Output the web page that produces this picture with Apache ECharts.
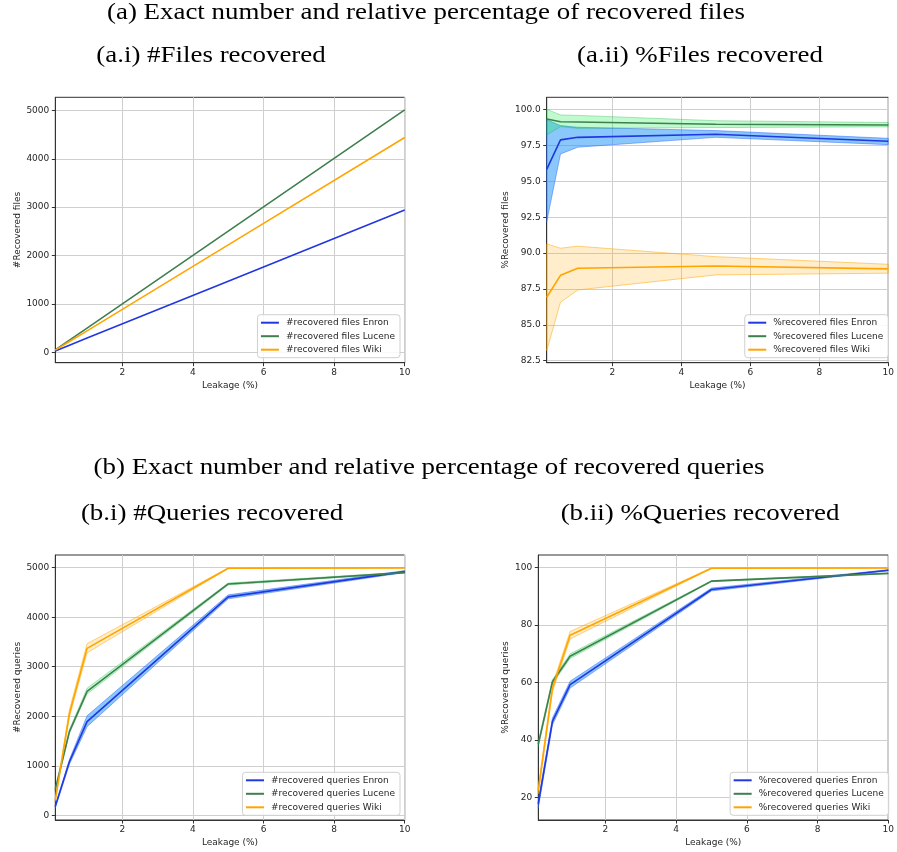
<!DOCTYPE html>
<html>
<head>
<meta charset="utf-8">
<script src="https://cdn.jsdelivr.net/npm/echarts@6/dist/echarts.min.js"></script>
<style>
html,body{margin:0;padding:0;background:#fff;}
#chart{width:897px;height:852px;}
</style>
</head>
<body>
<div id="chart"></div>
<script>
// ---- data ----
const leakage = [0.1, 0.5, 1, 5, 10];
const xTicks = [2, 4, 6, 8, 10];
const countTicks = [0, 1000, 2000, 3000, 4000, 5000];
const filesPctTicks = [82.5, 85, 87.5, 90, 92.5, 95, 97.5, 100];
const queriesPctTicks = [20, 40, 60, 80, 100];

// (a.i) number of recovered files
const filesCountEnron  = [29, 147, 294, 1470, 2940];
const filesCountLucene = [50, 251, 501, 2505, 5010];
const filesCountWiki   = [44, 222, 444, 2220, 4440];

// (a.ii) percentage of recovered files (mean, low, high)
const filesPctEnron     = [95.84, 97.89, 98.07, 98.28, 97.80];
const filesPctEnronLo   = [92.19, 96.91, 97.38, 98.07, 97.56];
const filesPctEnronHi   = [99.30, 98.89, 98.77, 98.54, 98.00];
const filesPctLucene    = [99.35, 99.16, 99.14, 98.98, 98.93];
const filesPctLuceneLo  = [98.24, 98.82, 98.70, 98.75, 98.80];
const filesPctLuceneHi  = [100.03, 99.63, 99.60, 99.23, 99.10];
const filesPctWiki      = [86.92, 88.45, 88.94, 89.10, 88.90];
const filesPctWikiLo    = [83.20, 86.57, 87.43, 88.48, 88.60];
const filesPctWikiHi    = [90.64, 90.34, 90.48, 89.75, 89.22];

// (b.i) number of recovered queries
const qCountEnron     = [180, 1080, 1890, 4410, 4920];
const qCountEnronLo   = [150, 1030, 1790, 4370, 4900];
const qCountEnronHi   = [205, 1125, 2010, 4450, 4940];
const qCountLucene    = [520, 1690, 2500, 4670, 4900];
const qCountLuceneLo  = [480, 1655, 2450, 4650, 4890];
const qCountLuceneHi  = [560, 1725, 2565, 4690, 4910];
const qCountWiki      = [310, 2050, 3370, 4988, 4996];
const qCountWikiLo    = [280, 1990, 3280, 4982, 4993];
const qCountWikiHi    = [345, 2130, 3465, 4994, 5000];

// (b.ii) percentage of recovered queries
const qPctEnron     = [17.8, 46.5, 59.3, 92.4, 99.1];
const qPctEnronLo   = [16.4, 45.3, 58.1, 91.9, 98.9];
const qPctEnronHi   = [19.2, 47.7, 60.5, 92.9, 99.3];
const qPctLucene    = [38.6, 60.3, 69.2, 95.3, 98.0];
const qPctLuceneLo  = [37.6, 59.6, 68.4, 95.1, 97.9];
const qPctLuceneHi  = [39.6, 61.0, 70.0, 95.5, 98.1];
const qPctWiki      = [22.5, 58.0, 76.5, 99.8, 99.9];
const qPctWikiLo    = [21.3, 56.8, 75.2, 99.7, 99.85];
const qPctWikiHi    = [23.7, 59.2, 77.8, 99.9, 99.95];

// ---- style ----
const C_ENRON = '#2137e0', C_LUCENE = '#3f7f4f', C_WIKI = '#ffa500';
const TXT = '#262626', SANS = 'DejaVu Sans', SERIF = 'Liberation Serif';

const grids = [
  {left: 55.3, top: 97.3, width: 349.4, height: 265.4},
  {left: 546.7, top: 97.3, width: 346.6, height: 265.4},
  {left: 55.3, top: 555, width: 349.4, height: 265},
  {left: 538.3, top: 555, width: 355, height: 265}
].map(g => Object.assign({show: true, borderColor: '#333', borderWidth: 1, backgroundColor: 'transparent'}, g));

function xAxis(gi) {
  return {
    type: 'value', gridIndex: gi, min: 0.1, max: 10,
    name: 'Leakage (%)', nameLocation: 'middle', nameGap: 18,
    nameTextStyle: {fontSize: 9, color: TXT, fontFamily: SANS},
    axisLine: {show: true, onZero: false, lineStyle: {color: '#333', width: 1}},
    axisTick: {show: true, length: 3.5, customValues: xTicks, lineStyle: {color: '#333'}},
    axisLabel: {customValues: xTicks, fontSize: 9, color: TXT, margin: 5, fontFamily: SANS},
    splitLine: {show: true, lineStyle: {color: '#cfcfcf', width: 1}}
  };
}
function yAxis(gi, name, min, max, ticks, gap, fmt) {
  return {
    type: 'value', gridIndex: gi, min: min, max: max,
    name: name, nameLocation: 'middle', nameGap: gap, nameRotate: 90,
    nameTextStyle: {fontSize: 9, color: TXT, fontFamily: SANS},
    axisLine: {show: true, onZero: false, lineStyle: {color: '#333', width: 1}},
    axisTick: {show: true, length: 3.5, customValues: ticks, lineStyle: {color: '#333'}},
    axisLabel: {customValues: ticks, fontSize: 9, color: TXT, margin: 6, fontFamily: SANS,
      formatter: fmt || (v => String(v))},
    splitLine: {show: true, lineStyle: {color: '#cfcfcf', width: 1}}
  };
}

function line(name, gi, ys, color) {
  return {
    type: 'line', name: name, xAxisIndex: gi, yAxisIndex: gi,
    data: leakage.map((x, i) => [x, ys[i]]),
    symbol: 'none', showSymbol: false, silent: true, animation: false,
    lineStyle: {color: color, width: 1.6}, itemStyle: {color: color}, z: 5
  };
}
function band(gi, lo, hi, fill, edge, z) {
  return {
    type: 'custom', xAxisIndex: gi, yAxisIndex: gi, silent: true, animation: false,
    data: [[leakage[0], lo[0]]], z: z || 2,
    renderItem: function (params, api) {
      const pts = [];
      for (let i = 0; i < leakage.length; i++) pts.push(api.coord([leakage[i], hi[i]]));
      for (let i = leakage.length - 1; i >= 0; i--) pts.push(api.coord([leakage[i], lo[i]]));
      return {type: 'polygon', shape: {points: pts}, style: {fill: fill, stroke: edge, lineWidth: 1}};
    }
  };
}

const BLUE_F = 'rgba(30,150,250,0.52)', BLUE_E = 'rgba(40,90,255,0.45)';
const GREEN_F = 'rgba(0,240,60,0.25)', GREEN_E = 'rgba(0,170,40,0.3)';
const ORANGE_F = 'rgba(255,165,0,0.2)', ORANGE_E = 'rgba(255,165,0,0.5)';

function legend(names, right, bottom) {
  return {
    orient: 'vertical', right: right, bottom: bottom, data: names,
    icon: 'rect', itemWidth: 18, itemHeight: 2, itemGap: 4.5,
    padding: [3.5, 5, 3.5, 3.5],
    backgroundColor: 'rgba(255,255,255,0.85)', borderColor: '#d0d0d0', borderWidth: 1, borderRadius: 3,
    textStyle: {fontSize: 9, color: TXT, fontFamily: SANS, padding: [0, 0, 0, 2]},
    selectedMode: false
  };
}

const nA = ['#recovered files Enron', '#recovered files Lucene', '#recovered files Wiki'];
const nB = ['%recovered files Enron', '%recovered files Lucene', '%recovered files Wiki'];
const nC = ['#recovered queries Enron', '#recovered queries Lucene', '#recovered queries Wiki'];
const nD = ['%recovered queries Enron', '%recovered queries Lucene', '%recovered queries Wiki'];

function title(text, x, y) {
  return {type: 'text', x: x, y: y, silent: true, scaleX: 1.17,
    style: {text: text, fill: '#000', font: '23px "' + SERIF + '"', textAlign: 'center', textVerticalAlign: 'middle'}};
}

const option = {
  animation: false,
  backgroundColor: '#fff',
  grid: grids,
  xAxis: [xAxis(0), xAxis(1), xAxis(2), xAxis(3)],
  yAxis: [
    yAxis(0, '#Recovered files', -215, 5270, countTicks, 32),
    yAxis(1, '%Recovered files', 82.36, 100.86, filesPctTicks, 37, v => v.toFixed(1)),
    yAxis(2, '#Recovered queries', -95, 5255, countTicks, 33),
    yAxis(3, '%Recovered queries', 12.2, 104.4, queriesPctTicks, 28.5)
  ],
  legend: [
    legend(nA, 897 - 400, 852 - 357.7),
    legend(nB, 897 - 888.3, 852 - 357.7),
    legend(nC, 897 - 400, 852 - 815.3),
    legend(nD, 897 - 888.7, 852 - 815.3)
  ],
  graphic: [
    title('(a) Exact number and relative percentage of recovered files', 426, 13),
    title('(a.i) #Files recovered', 211, 56),
    title('(a.ii) %Files recovered', 700, 56),
    title('(b) Exact number and relative percentage of recovered queries', 429, 468),
    title('(b.i) #Queries recovered', 212, 514),
    title('(b.ii) %Queries recovered', 700, 514)
  ],
  series: [
    line(nA[0], 0, filesCountEnron, C_ENRON),
    line(nA[1], 0, filesCountLucene, C_LUCENE),
    line(nA[2], 0, filesCountWiki, C_WIKI),

    band(1, filesPctEnronLo, filesPctEnronHi, BLUE_F, BLUE_E, 2),
    band(1, filesPctLuceneLo, filesPctLuceneHi, GREEN_F, GREEN_E, 3),
    band(1, filesPctWikiLo, filesPctWikiHi, ORANGE_F, ORANGE_E, 2),
    line(nB[0], 1, filesPctEnron, C_ENRON),
    line(nB[1], 1, filesPctLucene, C_LUCENE),
    line(nB[2], 1, filesPctWiki, C_WIKI),

    band(2, qCountEnronLo, qCountEnronHi, BLUE_F, BLUE_E, 2),
    band(2, qCountLuceneLo, qCountLuceneHi, GREEN_F, GREEN_E, 2),
    band(2, qCountWikiLo, qCountWikiHi, ORANGE_F, ORANGE_E, 2),
    line(nC[0], 2, qCountEnron, C_ENRON),
    line(nC[1], 2, qCountLucene, C_LUCENE),
    line(nC[2], 2, qCountWiki, C_WIKI),

    band(3, qPctEnronLo, qPctEnronHi, BLUE_F, BLUE_E, 2),
    band(3, qPctLuceneLo, qPctLuceneHi, GREEN_F, GREEN_E, 2),
    band(3, qPctWikiLo, qPctWikiHi, ORANGE_F, ORANGE_E, 2),
    line(nD[0], 3, qPctEnron, C_ENRON),
    line(nD[1], 3, qPctLucene, C_LUCENE),
    line(nD[2], 3, qPctWiki, C_WIKI)
  ]
};

const chart = echarts.init(document.getElementById('chart'), null, {renderer: 'canvas'});
chart.setOption(option);
</script>
</body>
</html>
